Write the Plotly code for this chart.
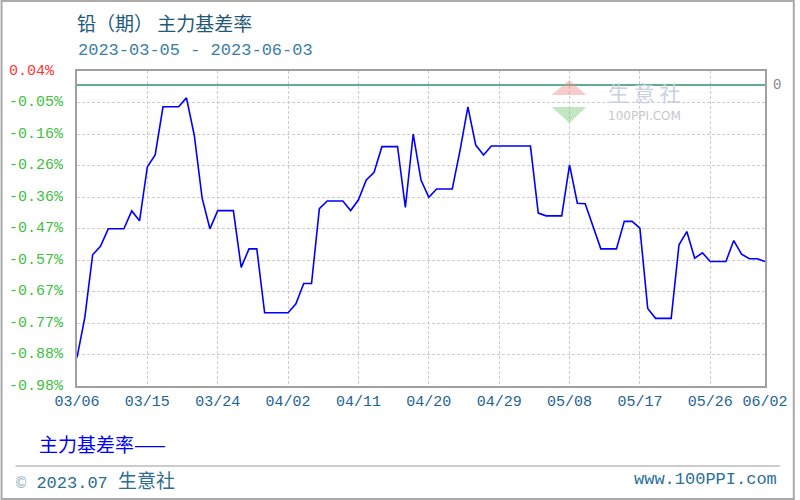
import pandas as pd
import plotly.graph_objects as go

# ---- data ----
start_date = "2023-03-06"
end_date = "2023-06-02"
basis_rate = [
    -0.883, -0.753, -0.550, -0.523, -0.466, -0.466, -0.466, -0.408, -0.440, -0.265,
    -0.227, -0.071, -0.071, -0.071, -0.042, -0.163, -0.366, -0.466, -0.407, -0.407,
    -0.407, -0.591, -0.531, -0.531, -0.738, -0.738, -0.738, -0.738, -0.709, -0.643,
    -0.643, -0.401, -0.376, -0.376, -0.376, -0.407, -0.372, -0.308, -0.283, -0.200,
    -0.200, -0.200, -0.397, -0.159, -0.308, -0.364, -0.337, -0.337, -0.337, -0.211,
    -0.071, -0.195, -0.227, -0.198, -0.198, -0.198, -0.198, -0.198, -0.198, -0.415,
    -0.424, -0.424, -0.424, -0.259, -0.383, -0.385, -0.456, -0.531, -0.531, -0.531,
    -0.442, -0.442, -0.464, -0.724, -0.756, -0.756, -0.756, -0.518, -0.475, -0.561,
    -0.544, -0.572, -0.572, -0.572, -0.504, -0.548, -0.563, -0.563, -0.572,
]
dates = pd.date_range(start_date, end_date, freq="D")

x_tick_dates = ["2023-03-06", "2023-03-15", "2023-03-24", "2023-04-02", "2023-04-11",
                "2023-04-20", "2023-04-29", "2023-05-08", "2023-05-17", "2023-05-26",
                "2023-06-02"]
x_tick_labels = ["03/06", "03/15", "03/24", "04/02", "04/11", "04/20", "04/29",
                 "05/08", "05/17", "05/26", "06/02"]

y_top = 0.045
y_bottom = -0.975
y_tick_labels = ["0.04%", "-0.05%", "-0.16%", "-0.26%", "-0.36%", "-0.47%",
                 "-0.57%", "-0.67%", "-0.77%", "-0.88%", "-0.98%"]
zero_line = 0.0

title_text = "铅（期） 主力基差率"
subtitle_text = "2023-03-05 - 2023-06-03"
legend_text = "主力基差率——"

# ---- layout geometry (pixels) ----
W, H = 800, 500
L, R, T, B = 77, 30, 71, 114
PW, PH = W - L - R, H - T - B


def px(xp):
    return (xp - L) / PW


def py(yp):
    return (H - B - yp) / PH


n_ticks = len(y_tick_labels)
y_tick_vals = [y_top - i * (y_top - y_bottom) / (n_ticks - 1) for i in range(n_ticks)]

mono = "Liberation Mono, DejaVu Sans Mono, monospace"
cjk = "Noto Sans CJK SC, sans-serif"

fig = go.Figure()
fig.add_trace(go.Scatter(
    x=dates, y=basis_rate, mode="lines",
    line=dict(color="#0000ff", width=1.6),
    hoverinfo="x+y", showlegend=False,
))
fig.add_trace(go.Scatter(
    x=[dates[0], dates[-1]], y=[zero_line, zero_line], mode="lines",
    line=dict(color="#5fb08a", width=2), showlegend=False, hoverinfo="skip",
))

annotations = []
for v, t in zip(y_tick_vals, y_tick_labels):
    annotations.append(dict(
        x=px(6), xref="paper", y=v, yref="y", text=t, showarrow=False,
        xanchor="left", yanchor="middle",
        font=dict(family=mono, size=15, color="#ff3333" if t == "0.04%" else "#3fbf3f"),
    ))

annotations += [
    dict(x=px(75), y=py(22), xref="paper", yref="paper", text=title_text,
         showarrow=False, xanchor="left", yanchor="middle",
         font=dict(family=cjk, size=19, color="#23587a")),
    dict(x=px(76), y=py(50), xref="paper", yref="paper", text=subtitle_text,
         showarrow=False, xanchor="left", yanchor="middle",
         font=dict(family=mono, size=17, color="#3a7ea8")),
    dict(x=px(776), y=zero_line, xref="paper", yref="y", text="0",
         showarrow=False, xanchor="left", yanchor="middle",
         font=dict(family=mono, size=14, color="#888888")),
    dict(x=px(37), y=py(443), xref="paper", yref="paper", text=legend_text,
         showarrow=False, xanchor="left", yanchor="middle",
         font=dict(family=cjk, size=19, color="#0000ff")),
    dict(x=px(14), y=py(479), xref="paper", yref="paper",
         text="<span style='color:#9ab0bf'>©</span> 2023.07 <span style='font-family:Noto Sans CJK SC;font-size:19px'>生意社</span>",
         showarrow=False, xanchor="left", yanchor="middle",
         font=dict(family=mono, size=17, color="#2b6e8e")),
    dict(x=px(784), y=py(479), xref="paper", yref="paper", text="www.100PPI.com",
         showarrow=False, xanchor="right", yanchor="middle",
         font=dict(family=mono, size=17, color="#2a6f9a")),
    # watermark
    dict(x=px(648), y=py(92), xref="paper", yref="paper", text="生 意 社",
         showarrow=False, xanchor="center", yanchor="middle",
         font=dict(family=cjk, size=21, color="#c9d0e4")),
    dict(x=px(649), y=py(116), xref="paper", yref="paper", text="100PPI.COM",
         showarrow=False, xanchor="center", yanchor="middle",
         font=dict(family="DejaVu Sans, sans-serif", size=12, color="#c8c8c8")),
]

shapes = [
    # outer border
    dict(type="rect", xref="paper", yref="paper", x0=px(1), x1=px(799), y0=py(499), y1=py(1),
         line=dict(color="#aaaaaa", width=2), layer="below"),
    # footer separator
    dict(type="line", xref="paper", yref="paper", x0=px(15), x1=px(785), y0=py(466), y1=py(466),
         line=dict(color="#999999", width=1)),
    # watermark logo triangles
    dict(type="path", xref="paper", yref="paper",
         path=f"M {px(573)} {py(80)} L {px(555)} {py(95)} L {px(590)} {py(95)} Z",
         fillcolor="rgba(240,140,140,0.45)", line=dict(width=0)),
    dict(type="path", xref="paper", yref="paper",
         path=f"M {px(555)} {py(107)} L {px(590)} {py(107)} L {px(573)} {py(123)} Z",
         fillcolor="rgba(120,200,120,0.45)", line=dict(width=0)),
]

fig.update_layout(
    width=W, height=H,
    margin=dict(l=L, r=R, t=T, b=B),
    paper_bgcolor="white", plot_bgcolor="white",
    annotations=annotations, shapes=shapes,
    xaxis=dict(
        range=[dates[0], dates[-1]],
        tickvals=x_tick_dates, ticktext=x_tick_labels,
        tickfont=dict(family=mono, size=15, color="#1e6394"),
        ticks="", ticklen=0, showgrid=True, gridcolor="#cccccc", griddash="3px,2px",
        gridwidth=1, showline=True, linecolor="#a0a0a0", linewidth=2, mirror=True,
        zeroline=False, tickangle=0,
    ),
    yaxis=dict(
        range=[y_bottom, y_top], tickvals=y_tick_vals, showticklabels=False,
        ticks="", showgrid=True, gridcolor="#cccccc", griddash="3px,2px", gridwidth=1,
        showline=True, linecolor="#a0a0a0", linewidth=2, mirror=True, zeroline=False,
    ),
)

fig.write_html(
    "out.html",
    config={"displayModeBar": False},
    post_script="document.body.style.margin='0px';document.body.style.overflow='hidden';",
)
